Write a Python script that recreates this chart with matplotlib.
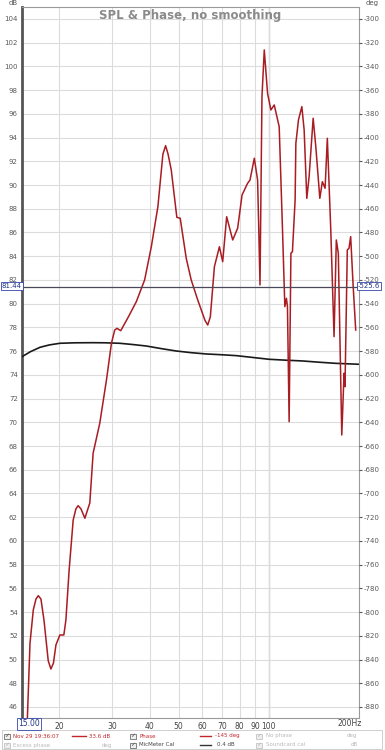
import matplotlib
matplotlib.use("Agg")
import matplotlib.pyplot as plt
from matplotlib.patches import Rectangle

# ---- data ----
spl_freq = [15.62, 15.95, 16.36, 16.7, 17.0, 17.35, 17.76, 18.35, 18.73, 19.1, 19.47, 20.07, 20.69, 21.02, 21.55,
            22.23, 22.7, 23.09, 23.6, 24.32, 25.26, 25.91, 27.27, 28.71, 29.83, 30.59, 31.14, 32.04,
            34.0, 36.12, 38.5, 40.53, 42.63, 44.3, 45.23, 46.1, 47.24, 49.31, 50.61, 53.0, 55.07, 57.91,
            61.2, 62.53, 63.8, 65.82, 68.4, 70.15, 72.33, 75.75, 78.7, 81.4, 84.96, 86.54, 89.45,
            91.73, 92.58, 93.44, 94.87, 96.56, 99.03, 101.6, 104.25, 108.3, 111.1, 113.1,
            114.5, 115.4, 116.9, 118.5, 119.9, 122.4, 123.1, 125.6, 128.9, 131.2, 133.9,
            136.3, 140.6, 143.5, 148.0, 150.9, 154.1, 156.8, 161.0, 165.1, 168.0, 170.6,
            175.2, 178.3, 179.6, 182.8, 185.2, 187.6, 191.0, 195.0]
spl_db = [44.8, 51.37, 54.18, 55.1, 55.38, 55.1, 53.33, 49.9, 49.2, 49.7, 51.23, 52.07, 52.07, 53.33, 57.55,
          61.76, 62.7, 62.97, 62.7, 61.91, 63.2, 67.39, 69.92, 73.57, 76.66, 77.78, 77.92, 77.72,
          78.9, 80.17, 82.0, 84.8, 88.18, 92.6, 93.32, 92.6, 91.27, 87.28, 87.2, 83.83, 82.0, 80.31,
          78.6, 78.2, 78.9, 83.12, 84.8, 83.54, 87.33, 85.37, 86.36, 89.16, 90.15, 90.43, 92.26,
          90.43, 86.21, 81.58, 97.45, 101.39, 97.74, 96.33, 96.75, 94.92, 86.21, 79.75,
          80.45, 79.75, 70.05, 84.25, 84.38, 88.74, 93.52, 95.49, 96.61, 94.64, 88.88,
          90.71, 95.63, 93.23, 88.88, 90.28, 89.73, 93.94, 86.21, 77.22, 85.37, 84.25,
          68.93, 74.13, 73.0, 84.53, 84.67, 85.65, 81.72, 77.78]

cal_freq = [15.0, 16.0, 17.22, 18.5, 20.07, 22.5, 25.91, 28.5, 31.79, 35.0, 39.0, 44.0, 49.08,
            55.0, 61.77, 70.0, 77.75, 88.0, 100.3, 115.0, 129.5, 148.0, 167.3, 183.0, 200.0]
cal_db = [75.53, 75.95, 76.32, 76.52, 76.66, 76.7, 76.71, 76.7, 76.66, 76.56, 76.43, 76.2, 76.01,
          75.87, 75.76, 75.69, 75.62, 75.47, 75.31, 75.23, 75.17, 75.06, 74.97, 74.93, 74.89]

cursor_db = 81.44
cursor_deg = -525.6

x_ticks = [20, 30, 40, 50, 60, 70, 80, 90, 100]
x_tick_labels = ["20", "30", "40", "50", "60", "70", "80", "90", "100"]
y_ticks = list(range(46, 105, 2))
deg_ticks = list(range(-880, -299, 20))

# ---- figure ----
fig = plt.figure(figsize=(3.85, 7.5), dpi=100)
fig.patch.set_facecolor("white")
L, R, T, B = 22, 359, 7, 718
W, H = 385, 750
ax = fig.add_axes([L / W, 1 - B / H, (R - L) / W, (B - T) / H])
ax.set_xscale("log")
ax.set_xlim(15, 200)
ylo, yhi = 45.07, 105.01
ax.set_ylim(ylo, yhi)

ax.set_yticks(y_ticks)
ax.set_yticklabels([str(v) for v in y_ticks])
ax.set_xticks(x_ticks)
ax.set_xticklabels(x_tick_labels)
ax.xaxis.set_minor_locator(matplotlib.ticker.NullLocator())
ax.tick_params(axis="y", labelsize=5, colors="#5a5a5a", length=0, pad=3)
ax.tick_params(axis="x", labelsize=5.5, colors="#444444", length=0, pad=3)
ax.grid(True, color="#dcdcdc", linewidth=0.8)
ax.axvline(100, color="#a8a8a8", linewidth=0.9, zorder=1)

for s in ["top", "right", "bottom"]:
    ax.spines[s].set_color("#9a9a9a")
    ax.spines[s].set_linewidth(0.8)
ax.spines["left"].set_color("#555555")
ax.spines["left"].set_linewidth(2.0)

ax2 = ax.twinx()
ax2.set_ylim(-300 + (ylo - 104) * 10, -300 + (yhi - 104) * 10)
ax2.set_yticks(deg_ticks)
ax2.set_yticklabels([str(v) for v in deg_ticks])
ax2.tick_params(axis="y", labelsize=5, colors="#5a5a5a", length=2, pad=1)
for s in ["top", "right", "bottom", "left"]:
    ax2.spines[s].set_visible(False)

ax.plot(cal_freq, cal_db, color="#1a1a1a", linewidth=1.2, zorder=3)
ax.plot(spl_freq, spl_db, color="#a81c22", linewidth=1.1, zorder=4,
        solid_joinstyle="round")
ax.axhline(cursor_db, color="#4a4a5a", linewidth=0.9, zorder=5)

ax.text(0.5, 0.997, "SPL & Phase, no smoothing", transform=ax.transAxes,
        ha="center", va="top", fontsize=8.5, color="#8a8a8a", fontweight="bold")

box = dict(boxstyle="square,pad=0.15", fc="white", ec="#3344aa", lw=0.6)
fig.text(12 / W, 1 - 286 / H, "81.44", ha="center", va="center", fontsize=5,
         color="#223388", bbox=box)
fig.text(369 / W, 1 - 286 / H, "-525.6", ha="center", va="center", fontsize=5,
         color="#223388", bbox=box)
fig.text(29 / W, 1 - 724 / H, "15.00", ha="center", va="center", fontsize=5.5,
         color="#223388", bbox=box)
fig.text(350 / W, 1 - 724 / H, "200Hz", ha="center", va="center", fontsize=5.5,
         color="#444444")
fig.text(13 / W, 1 - 3 / H, "dB", ha="center", va="center", fontsize=5, color="#555555")
fig.text(372 / W, 1 - 3 / H, "deg", ha="center", va="center", fontsize=5, color="#555555")

# legend panel
fig.patches.append(Rectangle((2 / W, 1 - 749 / H), 380 / W, 19 / H, transform=fig.transFigure,
                             fc="white", ec="#c8c8c8", lw=0.6))

def check(x, y, on=True):
    c = "#555555" if on else "#bbbbbb"
    fig.patches.append(Rectangle((x / W, 1 - (y + 3) / H), 5.5 / W, 5.5 / H,
                                 transform=fig.transFigure, fc="#eeeeee", ec=c, lw=0.5))
    fig.text((x + 2.8) / W, 1 - y / H, "\u2713", ha="center", va="center", fontsize=4.5, color=c)

def label(x, y, s, c, ha="left"):
    fig.text(x / W, 1 - y / H, s, ha=ha, va="center", fontsize=4, color=c)

def seg(x0, x1, y, c):
    fig.add_artist(plt.Line2D([x0 / W, x1 / W], [1 - y / H, 1 - y / H], color=c, lw=1.0))

red = "#c0282c"
grey = "#b8b8b8"
r1, r2 = 736, 745
check(4, r1); label(13, r1, "Nov 29 19:36:07", red); seg(72, 86, r1, red); label(110, r1, "33.6 dB", red, "right")
check(130, r1); label(139, r1, "Phase", red); seg(200, 211, r1, red); label(240, r1, "-145 deg", red, "right")
check(256, r1, False); label(266, r1, "No phase", grey); label(357, r1, "deg", grey, "right")
check(4, r2, False); label(13, r2, "Excess phase", grey); label(112, r2, "deg", grey, "right")
check(130, r2); label(139, r2, "MicMeter Cal", "#444444"); seg(200, 211, r2, "#333333"); label(235, r2, "0.4 dB", "#444444", "right")
check(256, r2, False); label(266, r2, "Soundcard cal", grey); label(358, r2, "dB", grey, "right")

fig.savefig("out.png", dpi=100, facecolor="white")
